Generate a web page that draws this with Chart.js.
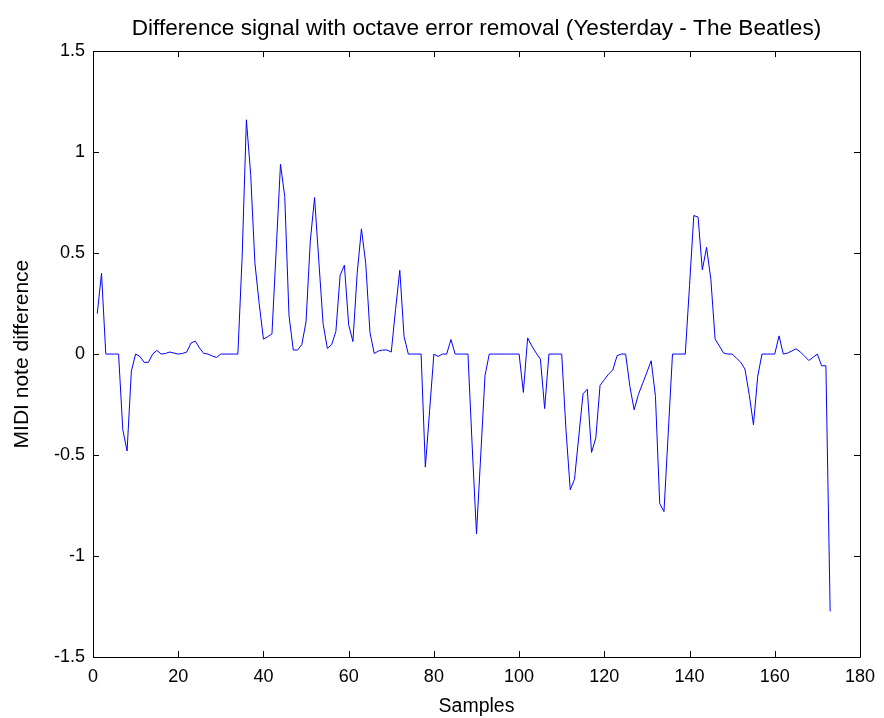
<!DOCTYPE html>
<html>
<head>
<meta charset="utf-8">
<script src="https://cdn.jsdelivr.net/npm/chart.js@4.4.1/dist/chart.umd.min.js"></script>
<style>
  html, body { margin: 0; padding: 0; background: #ffffff; }
  #wrap { width: 884px; height: 718px; }
</style>
</head>
<body>
<div id="wrap"><canvas id="chart" width="884" height="718"></canvas></div>
<script>
// Pitch difference per sample (MIDI note units), samples 1..173
const noteDifference = [
  0.2, 0.4, 0, 0, 0, 0, -0.375, -0.48, -0.085, 0,
  -0.012, -0.041, -0.041, 0, 0.018, 0, 0.003, 0.01, 0.005, 0,
  0.003, 0.01, 0.055, 0.064, 0.03, 0.003, 0, -0.01, -0.017, 0,
  0, 0, 0, 0, 0.48, 1.16, 0.89, 0.45, 0.25, 0.074,
  0.086, 0.1, 0.52, 0.94, 0.78, 0.19, 0.02, 0.02, 0.046, 0.16,
  0.56, 0.775, 0.46, 0.15, 0.028, 0.046, 0.112, 0.39, 0.44, 0.145,
  0.062, 0.4, 0.62, 0.45, 0.107, 0.003, 0.015, 0.02, 0.02, 0.01,
  0.22, 0.415, 0.087, 0, 0, 0, 0, -0.56, -0.28, 0,
  -0.012, 0, 0, 0.072, 0, 0, 0, 0, -0.46, -0.89,
  -0.5, -0.107, 0, 0, 0, 0, 0, 0, 0, 0,
  -0.19, 0.08, 0.04, 0.005, -0.025, -0.27, 0, 0, 0, 0,
  -0.375, -0.672, -0.62, -0.41, -0.197, -0.174, -0.487, -0.416, -0.155, -0.127,
  -0.099, -0.078, -0.008, 0, 0, -0.16, -0.276, -0.2, -0.145, -0.09,
  -0.033, -0.21, -0.74, -0.78, -0.39, 0, 0, 0, 0, 0.34,
  0.686, 0.678, 0.417, 0.528, 0.37, 0.074, 0.04, 0.005, 0, 0,
  -0.02, -0.04, -0.074, -0.2, -0.35, -0.11, 0, 0, 0, 0,
  0.09, 0, 0.005, 0.015, 0.026, 0.01, -0.01, -0.032, -0.016, 0,
  -0.058, -0.058, -1.274
];
const firstSample = 1;

const xTickStep = 20;
const xRange = [0, 180];
const yTickStep = 0.5;
const yRange = [-1.5, 1.5];

const titleText = 'Difference signal with octave error removal (Yesterday - The Beatles)';
const xTitle = 'Samples';
const yTitle = 'MIDI note difference';

const FONT = 'Liberation Sans, Arial, Helvetica, sans-serif';

// (sample, value) pairs for the linear x scale
const points = noteDifference.map((v, i) => ({ x: firstSample + i, y: v }));

// Box around the plot area with inward ticks on all four sides
const boxTicks = {
  id: 'boxTicks',
  afterDraw(chart) {
    const { ctx, chartArea: a, scales } = chart;
    const len = 6;
    ctx.save();
    ctx.strokeStyle = '#000000';
    ctx.lineWidth = 1;
    ctx.beginPath();
    ctx.rect(Math.round(a.left) + 0.5, Math.round(a.top) + 0.5,
             Math.round(a.right - a.left), Math.round(a.bottom - a.top));
    ctx.stroke();
    ctx.beginPath();
    scales.x.ticks.forEach(t => {
      const px = Math.round(scales.x.getPixelForValue(t.value)) + 0.5;
      ctx.moveTo(px, a.bottom); ctx.lineTo(px, a.bottom - len);
      ctx.moveTo(px, a.top); ctx.lineTo(px, a.top + len);
    });
    scales.y.ticks.forEach(t => {
      const py = Math.round(scales.y.getPixelForValue(t.value)) + 0.5;
      ctx.moveTo(a.left, py); ctx.lineTo(a.left + len, py);
      ctx.moveTo(a.right, py); ctx.lineTo(a.right - len, py);
    });
    ctx.stroke();
    ctx.restore();
  }
};

new Chart(document.getElementById('chart'), {
  type: 'line',
  data: {
    datasets: [{
      data: points,
      borderColor: '#0000ff',
      borderWidth: 1,
      pointRadius: 0,
      tension: 0,
      fill: false
    }]
  },
  options: {
    responsive: false,
    devicePixelRatio: 1,
    animation: false,
    layout: { padding: { left: 0, right: 23, top: 0, bottom: 0 } },
    plugins: {
      legend: { display: false },
      tooltip: { enabled: false },
      title: {
        display: true,
        fullSize: false,
        text: titleText,
        color: '#000000',
        font: { family: FONT, size: 22.6, weight: 'normal', lineHeight: 1.2 },
        padding: { top: 15, bottom: 9 }
      }
    },
    scales: {
      x: {
        type: 'linear',
        min: xRange[0],
        max: xRange[1],
        grid: { display: false, drawTicks: false },
        border: { display: true, color: '#000000', width: 1 },
        ticks: {
          stepSize: xTickStep,
          color: '#000000',
          padding: 9,
          maxRotation: 0,
          font: { family: FONT, size: 18 }
        },
        title: {
          display: true,
          text: xTitle,
          color: '#000000',
          padding: { top: 2, bottom: 0 },
          font: { family: FONT, size: 19.5, lineHeight: 1.2 }
        },
        afterFit(s) { s.height = 61; }
      },
      y: {
        type: 'linear',
        min: yRange[0],
        max: yRange[1],
        grid: { display: false, drawTicks: false },
        border: { display: true, color: '#000000', width: 1 },
        ticks: {
          stepSize: yTickStep,
          color: '#000000',
          padding: 8,
          font: { family: FONT, size: 18 },
          callback: (v) => String(Math.round(v * 10) / 10)
        },
        title: {
          display: true,
          text: yTitle,
          color: '#000000',
          padding: { top: 10, bottom: 0 },
          font: { family: FONT, size: 21, lineHeight: 1.2 }
        },
        afterFit(s) { s.width = 93; }
      }
    }
  },
  plugins: [boxTicks]
});
</script>
</body>
</html>
